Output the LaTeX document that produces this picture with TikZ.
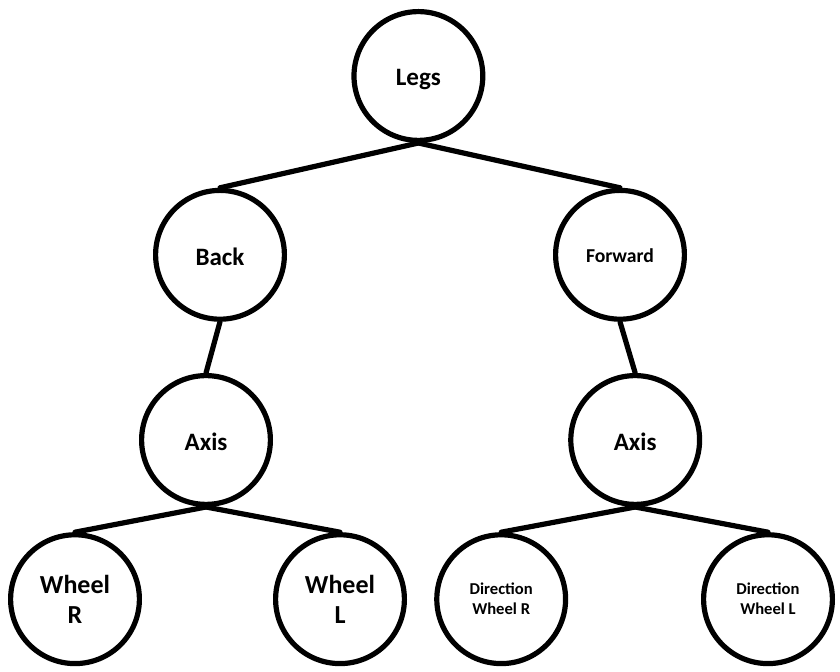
\documentclass[tikz,border=0pt]{standalone}
\usepackage{fontspec}
\setmainfont{Carlito}
\begin{document}
\begin{tikzpicture}[line cap=round,line join=round,x=1.0cm,y=1.0cm,
	part/.style={circle,draw,line width=0.13cm,minimum size=3.22cm,inner sep=0pt,align=center,font=\bfseries},
	word/.style={text height=#1,text depth=0pt},
	link/.style={line width=0.13cm}]
	\useasboundingbox (0,0) rectangle (21,16.8);
	\node[part,word=14pt,font=\bfseries\fontsize{17.8}{21}\selectfont] (legs) at (10.46,14.9) {Legs};
	\node[part,word=15pt,font=\bfseries\fontsize{17.8}{21}\selectfont] (back) at (5.5,10.43) {Back};
	\node[part,word=11.5pt,font=\bfseries\fontsize{14}{17}\selectfont] (forward) at (15.5,10.43) {Forward};
	\node[part,word=15pt,font=\bfseries\fontsize{17.8}{21}\selectfont] (axisl) at (5.15,5.8) {Axis};
	\node[part,word=15pt,font=\bfseries\fontsize{17.8}{21}\selectfont] (axisr) at (15.88,5.8) {Axis};
	\node[part,font=\bfseries\fontsize{18.5}{21}\selectfont] (wheelr) at (1.875,1.82) {Wheel\\R};
	\node[part,font=\bfseries\fontsize{18.5}{21}\selectfont] (wheell) at (8.5,1.82) {Wheel\\L};
	\node[part,font=\bfseries\fontsize{11.8}{14.2}\selectfont] (dirr) at (12.53,1.82) {Direction\\Wheel R};
	\node[part,font=\bfseries\fontsize{11.8}{14.2}\selectfont] (dirl) at (19.2,1.82) {Direction\\Wheel L};
	\draw [link] (legs.south)-- (back.north);
	\draw [link] (legs.south)-- (forward.north);
	\draw [link] (back.south)-- (axisl.north);
	\draw [link] (forward.south)-- (axisr.north);
	\draw [link] (axisl.south)-- (wheelr.north);
	\draw [link] (axisl.south)-- (wheell.north);
	\draw [link] (axisr.south)-- (dirr.north);
	\draw [link] (axisr.south)-- (dirl.north);
\end{tikzpicture}
\end{document}
